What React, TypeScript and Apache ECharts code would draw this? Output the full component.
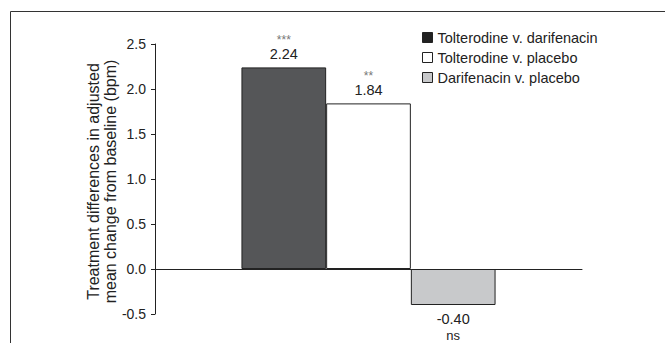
import React, { useEffect, useRef } from "react";
import * as echarts from "echarts";

const categories = ["Comparison"];
const seriesNames = ["Tolterodine v. darifenacin", "Tolterodine v. placebo", "Darifenacin v. placebo"];
const values = [2.24, 1.84, -0.4];
const significance = ["***", "**", "ns"];
const seriesColors = ["#555658", "#ffffff", "#c8c9cb"];
const legendColors = ["#222222", "#ffffff", "#c8c9cb"];
const yTitle = ["Treatment differences in adjusted", "mean change from baseline (bpm)"];

const FONT = "Liberation Sans";

export default function App() {
  const ref = useRef<HTMLDivElement>(null);
  useEffect(() => {
    const chart = echarts.init(ref.current!, null, { renderer: "svg" });
    const series = seriesNames.map((name, i) => {
      const v = values[i];
      const neg = v < 0;
      return {
        name,
        type: "bar",
        data: [v],
        barWidth: 84.7,
        barGap: "0%",
        itemStyle: { color: seriesColors[i], borderColor: "#222", borderWidth: 1 },
        label: {
          show: true,
          position: neg ? "bottom" : "top",
          distance: 6,
          formatter: neg
            ? `{v|${v.toFixed(2)}}\n{s|${significance[i]}}`
            : `{s|${significance[i]}}\n{v|${v.toFixed(2)}}`,
          rich: {
            v: { fontFamily: FONT, fontSize: 14.5, color: "#222", lineHeight: neg ? 16 : 14.5 },
            s: {
              fontFamily: FONT,
              fontSize: neg ? 13 : 12,
              color: neg ? "#222" : "#777",
              lineHeight: neg ? 16 : 13,
            },
          },
        },
      };
    });
    chart.setOption({
      animation: false,
      grid: { left: 155, right: 83, top: 44, bottom: 29, containLabel: false },
      legend: {
        left: 417,
        top: 25,
        orient: "vertical",
        icon: "rect",
        itemWidth: 10,
        itemHeight: 10,
        itemGap: 5,
        textStyle: { fontFamily: FONT, fontSize: 14.5, color: "#222", lineHeight: 14 },
        data: seriesNames.map((n, i) => ({
          name: n,
          itemStyle: { color: legendColors[i], borderColor: "#222", borderWidth: 1 },
        })),
      },
      xAxis: {
        type: "category",
        data: categories,
        axisLine: { show: true, onZero: true, lineStyle: { color: "#222", width: 1 } },
        axisTick: { show: false },
        axisLabel: { show: false },
      },
      yAxis: {
        type: "value",
        min: -0.5,
        max: 2.5,
        interval: 0.5,
        splitLine: { show: false },
        axisLine: { show: true, lineStyle: { color: "#222", width: 1 } },
        axisTick: { show: true, length: 4, lineStyle: { color: "#222" } },
        axisLabel: {
          fontFamily: FONT,
          fontSize: 14,
          color: "#222",
          margin: 9,
          formatter: (v: number) => v.toFixed(1),
        },
      },
      graphic: [
        {
          type: "rect",
          shape: { x: 10.5, y: 11.5, width: 700, height: 400 },
          style: { fill: "none", stroke: "#333", lineWidth: 1 },
          silent: true,
        },
        {
          type: "text",
          x: 101.5,
          y: 181.5,
          rotation: Math.PI / 2,
          style: {
            text: yTitle.join("\n"),
            fontFamily: FONT,
            fontSize: 16,
            fill: "#222",
            lineHeight: 17,
            align: "center",
            verticalAlign: "middle",
          },
        },
      ],
      series,
    });
    return () => chart.dispose();
  }, []);
  return (
    <div
      ref={ref}
      style={{ position: "fixed", left: 0, top: 0, width: 665, height: 343, background: "#fff" }}
    />
  );
}
